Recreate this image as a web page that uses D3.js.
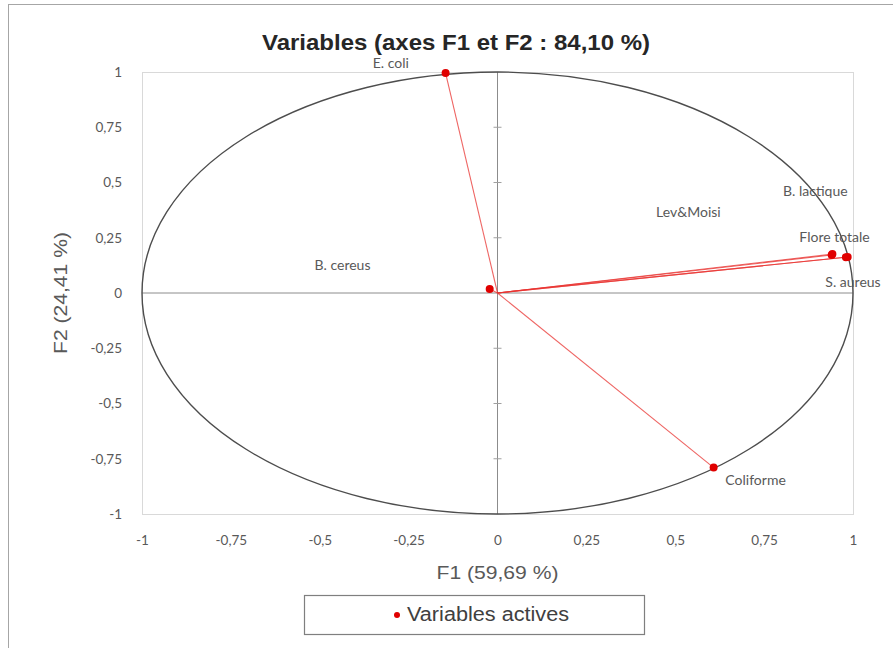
<!DOCTYPE html>
<html>
<head>
<meta charset="utf-8">
<script src="https://cdn.jsdelivr.net/npm/d3@7"></script>
<style>
  body { margin: 0; background: #fff; }
  svg { display: block; }
</style>
</head>
<body>
<div id="chart"></div>
<script>
// correlation circle data (F1 / F2 loadings)
const variables = ["E. coli", "B. cereus", "Lev&Moisi", "B. lactique", "Flore totale", "S. aureus", "Coliforme"];
const f1 = [-0.146, -0.022, 0.94, 0.98, 0.942, 0.985, 0.608];
const f2 = [0.995, 0.018, 0.172, 0.162, 0.176, 0.163, -0.79];
// where the labels sit (in axis units)
const labelF1 = [-0.30, -0.436, 0.537, 0.894, 0.948, 1.0, 0.726];
const labelF2 = [1.035, 0.118, 0.362, 0.457, 0.249, 0.045, -0.851];
const tickValues = [-1, -0.75, -0.5, -0.25, 0, 0.25, 0.5, 0.75, 1];

const titleText = "Variables (axes F1 et F2 : 84,10 %)";
const xTitle = "F1 (59,69 %)";
const yTitle = "F2 (24,41 %)";
const legendText = "Variables actives";

const W = 893, H = 648;
const margin = {left: 142, right: 40, top: 72, bottom: 134};

const svg = d3.select("#chart").append("svg")
  .attr("width", W)
  .attr("height", H);

// outer chart border
svg.append("rect")
  .attr("x", 8.5).attr("y", 4.5)
  .attr("width", W).attr("height", H)
  .attr("fill", "none")
  .attr("stroke", "#a6a6a6");

const x = d3.scaleLinear().domain([-1, 1]).range([margin.left, W - margin.right]);
const y = d3.scaleLinear().domain([-1, 1]).range([H - margin.bottom, margin.top]);

const locale = d3.formatLocale({decimal: ",", thousands: " ", grouping: [3], currency: ["", ""], minus: "-"});
const fmt = locale.format("");

// plot frame
svg.append("rect")
  .attr("x", x(-1) + 0.5).attr("y", y(1) + 0.5)
  .attr("width", x(1) - x(-1)).attr("height", y(-1) - y(1))
  .attr("fill", "none")
  .attr("stroke", "#d9d9d9");

// tick labels
const fontTicks = "Lato, 'Open Sans', sans-serif";
const xAxis = svg.append("g")
  .attr("transform", `translate(0,${y(-1) + 18})`)
  .call(d3.axisBottom(x).tickValues(tickValues).tickFormat(fmt).tickSize(0));
const yAxis = svg.append("g")
  .attr("transform", `translate(${x(-1) - 17},0)`)
  .call(d3.axisLeft(y).tickValues(tickValues).tickFormat(fmt).tickSize(0));
[xAxis, yAxis].forEach(g => {
  g.select(".domain").remove();
  g.selectAll("text")
    .attr("fill", "#595959")
    .style("font-family", fontTicks)
    .style("font-size", "13.5px");
});

// central axes
svg.append("line")
  .attr("x1", x(-1)).attr("x2", x(1))
  .attr("y1", y(0)).attr("y2", y(0))
  .attr("stroke", "#8c8c8c");
svg.append("line")
  .attr("x1", x(0)).attr("x2", x(0))
  .attr("y1", y(1)).attr("y2", y(-1))
  .attr("stroke", "#8c8c8c");
svg.append("g").selectAll("line")
  .data(tickValues.filter(d => d !== 0 && Math.abs(d) !== 1))
  .enter().append("line")
  .attr("x1", x(0) - 4).attr("x2", x(0) + 4)
  .attr("y1", d => y(d)).attr("y2", d => y(d))
  .attr("stroke", "#a0a0a0");

// unit circle (ellipse in pixels)
svg.append("ellipse")
  .attr("cx", x(0)).attr("cy", y(0))
  .attr("rx", x(1) - x(0)).attr("ry", y(0) - y(1))
  .attr("fill", "none")
  .attr("stroke", "#4d4d4d")
  .attr("stroke-width", 1.4);

const rows = variables.map((name, i) => ({name, f1: f1[i], f2: f2[i], lx: labelF1[i], ly: labelF2[i]}));

// vectors
svg.append("g").selectAll("line")
  .data(rows)
  .enter().append("line")
  .attr("x1", x(0)).attr("y1", y(0))
  .attr("x2", d => x(d.f1)).attr("y2", d => y(d.f2))
  .attr("stroke", "#e8322f")
  .attr("stroke-opacity", 0.75)
  .attr("stroke-width", 1.1);

// points
svg.append("g").selectAll("circle")
  .data(rows)
  .enter().append("circle")
  .attr("cx", d => x(d.f1)).attr("cy", d => y(d.f2))
  .attr("r", 4)
  .attr("fill", "#e00000");

// labels
svg.append("g").selectAll("text")
  .data(rows)
  .enter().append("text")
  .attr("x", d => x(d.lx)).attr("y", d => y(d.ly))
  .attr("text-anchor", "middle")
  .attr("dominant-baseline", "middle")
  .attr("fill", "#595959")
  .style("font-family", fontTicks)
  .style("font-size", "14px")
  .text(d => d.name);

// title
svg.append("text")
  .attr("x", 456).attr("y", 50)
  .attr("text-anchor", "middle")
  .attr("fill", "#262626")
  .attr("textLength", 388)
  .attr("lengthAdjust", "spacingAndGlyphs")
  .style("font-family", "'Liberation Sans', Arial, sans-serif")
  .style("font-weight", "bold")
  .style("font-size", "22px")
  .text(titleText);

// axis titles
const fontTitles = "'Liberation Sans Narrow', 'Liberation Sans', Arial, sans-serif";
svg.append("text")
  .attr("x", x(0)).attr("y", y(-1) + 65)
  .attr("text-anchor", "middle")
  .attr("fill", "#595959")
  .attr("textLength", 122)
  .attr("lengthAdjust", "spacingAndGlyphs")
  .style("font-family", fontTitles)
  .style("font-size", "18px")
  .text(xTitle);
svg.append("text")
  .attr("transform", `translate(62,${y(0)}) rotate(-90)`)
  .attr("text-anchor", "middle")
  .attr("dominant-baseline", "middle")
  .attr("fill", "#595959")
  .attr("textLength", 122)
  .attr("lengthAdjust", "spacingAndGlyphs")
  .style("font-family", fontTitles)
  .style("font-size", "18px")
  .text(yTitle);

// legend
const legend = svg.append("g").attr("transform", "translate(304,595)");
legend.append("rect")
  .attr("x", 0.5).attr("y", 0.5)
  .attr("width", 340).attr("height", 39)
  .attr("fill", "#fff")
  .attr("stroke", "#7f7f7f")
  .attr("stroke-width", 1.2);
legend.append("circle")
  .attr("cx", 93).attr("cy", 20)
  .attr("r", 3)
  .attr("fill", "#e00000");
legend.append("text")
  .attr("x", 103).attr("y", 21)
  .attr("dominant-baseline", "middle")
  .attr("fill", "#404040")
  .attr("textLength", 162)
  .attr("lengthAdjust", "spacingAndGlyphs")
  .style("font-family", fontTitles)
  .style("font-size", "20px")
  .text(legendText);
</script>
</body>
</html>
